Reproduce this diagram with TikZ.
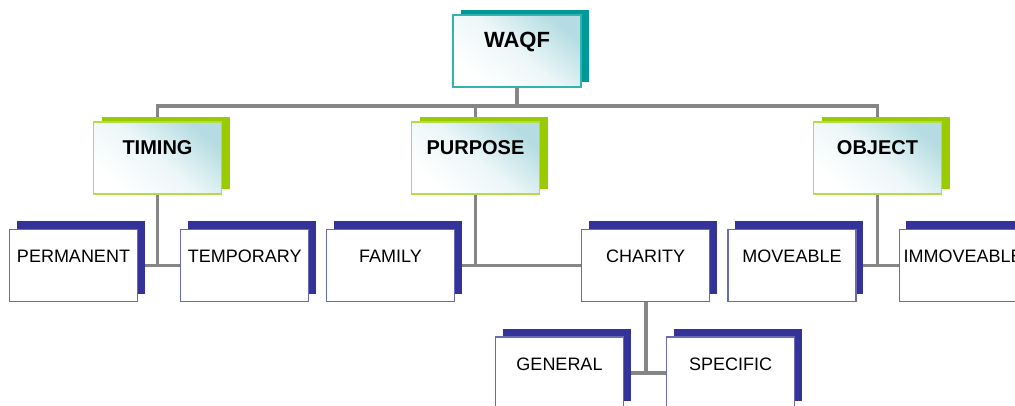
\documentclass[tikz,border=0pt]{standalone}
\usepackage{fontspec}
\setmainfont{Liberation Sans}
\usetikzlibrary{positioning, shadows, backgrounds}

\definecolor{waqfteal}{HTML}{009999}
\definecolor{waqfedge}{HTML}{33B3AF}
\definecolor{catgreen}{HTML}{99CC00}
\definecolor{catedge}{HTML}{B5DB45}
\definecolor{leafblue}{HTML}{333399}
\definecolor{leafedge}{HTML}{6A6AB5}
\definecolor{paleteal}{HTML}{B4DCE2}
\definecolor{linkgray}{HTML}{868686}

\begin{document}
\begin{tikzpicture}[x=1pt, y=-1pt,
    box/.style={minimum width=128pt, minimum height=72pt, inner sep=0pt,
        text height=33pt, text depth=39pt, line width=1.2pt},
    shadebox/.style={box, top color=paleteal, bottom color=white,
        middle color=white!75!paleteal, shading angle=-40},
    root/.style={shadebox, draw=waqfedge, font=\fontsize{22}{24}\selectfont\bfseries,
        general shadow={fill=waqfteal, shadow xshift=8pt, shadow yshift=5pt}},
    cat/.style={shadebox, draw=catedge, font=\fontsize{20}{22}\selectfont\bfseries,
        general shadow={fill=catgreen, shadow xshift=8pt, shadow yshift=5pt}},
    leaf/.style={box, draw=leafedge, fill=white, font=\fontsize{18}{20}\selectfont,
        general shadow={fill=leafblue, shadow xshift=7pt, shadow yshift=8pt}},
    link/.style={draw=linkgray, line width=3.8pt},]

\useasboundingbox (0,0) rectangle (1015,406);

% Top of the tree
\node[root] (waqf) at (517,51) {WAQF};

% Categories
\node[cat] (timing) at (157.5,158) {TIMING};
\node[cat] (purpose) at (475.5,158) {PURPOSE};
\node[cat] (object) at (877.5,158) {OBJECT};

% Kinds under each category
\node[leaf] (perm) at (73.5,265.5) {PERMANENT};
\node[leaf, right=42pt of perm] (temp) {TEMPORARY};

\node[leaf] (family) at (390.5,265.5) {FAMILY};
\node[leaf, right=126pt of family] (charity) {CHARITY};

\node[leaf] (moveable) at (792,265.5) {MOVEABLE};
\node[leaf, right=42pt of moveable] (immoveable) {IMMOVEABLE};

% Kinds of charity
\node[leaf] (general) at (559.5,373) {GENERAL};
\node[leaf, right=42pt of general] (specific) {SPECIFIC};

% Connectors, behind the boxes
\begin{scope}[on background layer]
\coordinate (bus) at (517,106);
\draw[link] (waqf.south) -- (bus);
\draw[link] (timing.north) |- (bus) -| (object.north);
\draw[link] (purpose.north) -- (purpose.north |- bus);

\draw[link] (timing.south) -- (timing.south |- perm.east);
\draw[link] (perm.east) -- (temp.west);

\draw[link] (purpose.south) -- (purpose.south |- family.east);
\draw[link] (family.east) -- (charity.west);

\draw[link] (object.south) -- (object.south |- moveable.east);
\draw[link] (moveable.east) -- (immoveable.west);

\draw[link] (charity.south) -- (charity.south |- general.east);
\draw[link] (general.east) -- (specific.west);
\end{scope}

\end{tikzpicture}
\end{document}
